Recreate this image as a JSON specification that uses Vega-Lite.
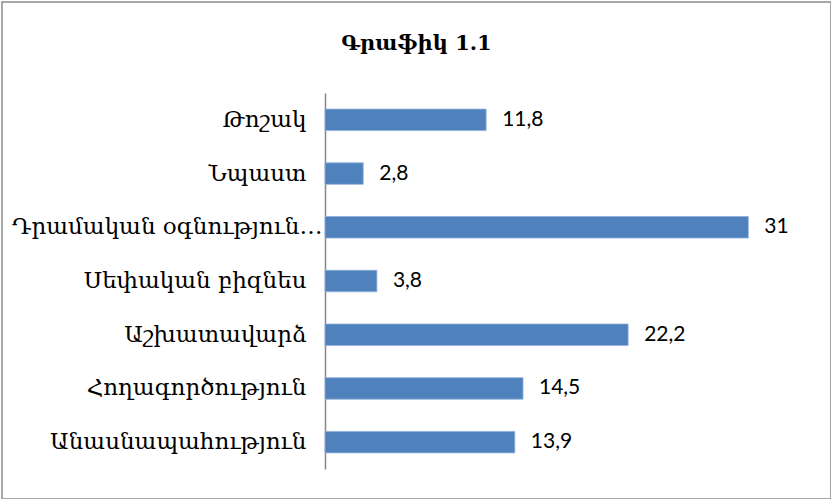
{
  "$schema": "https://vega.github.io/schema/vega-lite/v6.json",
  "autosize": "none",
  "padding": {"left": 2, "top": 2, "right": 0, "bottom": 0},
  "width": 829,
  "height": 497,
  "background": "white",
  "config": {
    "view": {"stroke": "#8a8a8a", "strokeWidth": 1.5},
    "locale": {"number": {"decimal": ",", "thousands": " ", "grouping": [3], "currency": ["", ""]}}
  },
  "title": {
    "text": "Գրաֆիկ 1.1",
    "font": "DejaVu Serif",
    "fontSize": 21,
    "fontWeight": "bold",
    "color": "black",
    "anchor": "middle",
    "baseline": "alphabetic",
    "offset": -69
  },
  "data": {
    "values": [
      {"category": "Թոշակ", "value": 11.8},
      {"category": "Նպաստ", "value": 2.8},
      {"category": "Դրամական օգնություն…", "value": 31},
      {"category": "Սեփական բիզնես", "value": 3.8},
      {"category": "Աշխատավարձ", "value": 22.2},
      {"category": "Հողագործություն", "value": 14.5},
      {"category": "Անասնապահություն", "value": 13.9}
    ]
  },
  "encoding": {
    "y": {
      "field": "category",
      "type": "nominal",
      "sort": null,
      "scale": {"range": [91, 467], "paddingInner": 0.6, "paddingOuter": 0.3},
      "axis": {
        "title": null,
        "offset": -323,
        "ticks": false,
        "domainColor": "#868686",
        "domainWidth": 1.5,
        "labelPadding": {"condition": {"test": "datum.value == 'Դրամական օգնություն…'", "value": 3}, "value": 19},
        "labelFont": "DejaVu Serif",
        "labelFontSize": 23,
        "labelColor": "black",
        "labelLimit": 330
      }
    },
    "x": {
      "field": "value",
      "type": "quantitative",
      "scale": {"domain": [0, 31], "range": [323, 746.3], "nice": false, "zero": true},
      "axis": null
    }
  },
  "layer": [
    {"mark": {"type": "bar", "color": "#4F81BD", "stroke": "#8fb0da", "strokeWidth": 0.8}},
    {
      "mark": {"type": "text", "align": "left", "baseline": "middle", "dx": 16, "font": "Lato", "fontSize": 21, "color": "black"},
      "encoding": {"text": {"field": "value", "type": "quantitative", "format": ".1~f"}}
    }
  ]
}
